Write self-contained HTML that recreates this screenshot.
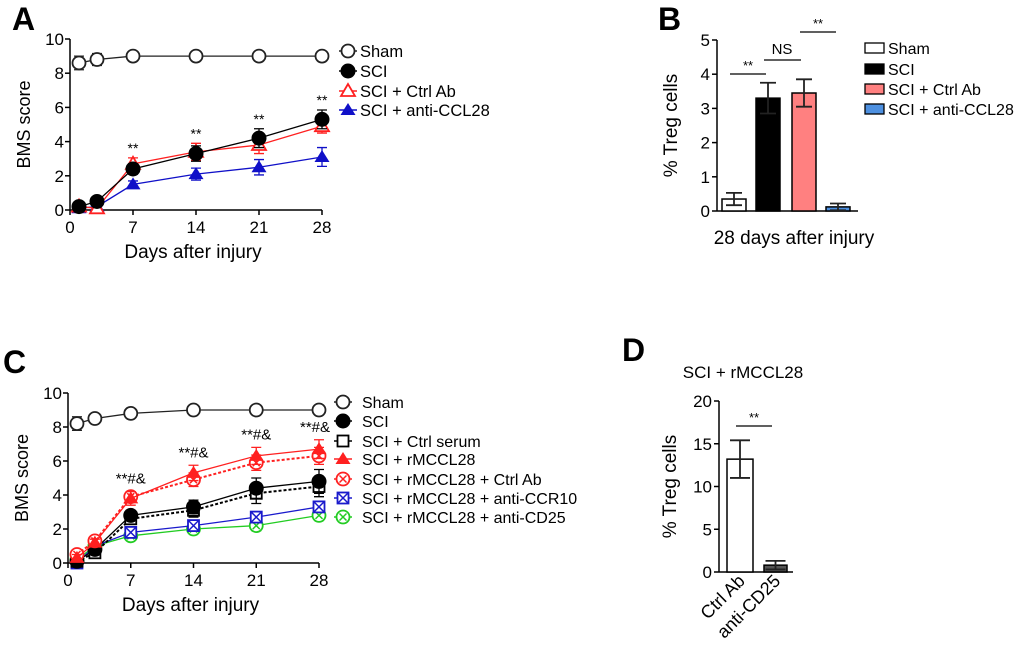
<!DOCTYPE html>
<html><head><meta charset="utf-8">
<style>
html,body{margin:0;padding:0;background:#fff;}
svg{display:block;font-family:"Liberation Sans",Arial,sans-serif;}
</style></head>
<body>
<svg id="fig" width="1020" height="650" viewBox="0 0 1020 650" xmlns="http://www.w3.org/2000/svg"></svg>
<script>
// ---------- Data ----------
const days = [1, 3, 7, 14, 21, 28];
const xTicks = [0, 7, 14, 21, 28];
const yTicksLine = [0, 2, 4, 6, 8, 10];
// Panel A
const aSham = [8.6, 8.8, 9.0, 9.0, 9.0, 9.0];
const aShamErr = [0.4, 0.35, 0.1, 0.1, 0.1, 0.1];
const aSCI = [0.2, 0.5, 2.4, 3.3, 4.2, 5.3];
const aSCIErr = [0.2, 0.2, 0.3, 0.45, 0.55, 0.55];
const aCtrl = [0.2, 0.1, 2.7, 3.4, 3.8, 4.9];
const aCtrlErr = [0.2, 0.1, 0.35, 0.5, 0.5, 0.4];
const aAnti = [0.1, 0.2, 1.5, 2.1, 2.5, 3.1];
const aAntiErr = [0.1, 0.1, 0.2, 0.35, 0.45, 0.55];
const aStars = ["", "", "**", "**", "**", "**"];
// Panel C
const cSham = [8.2, 8.5, 8.8, 9.0, 9.0, 9.0];
const cShamErr = [0.4, 0.2, 0.15, 0.15, 0.1, 0.1];
const cSCI = [0.1, 0.8, 2.8, 3.3, 4.4, 4.8];
const cSCIErr = [0.1, 0.2, 0.3, 0.4, 0.6, 0.7];
const cSerum = [0.1, 0.6, 2.6, 3.1, 4.1, 4.5];
const cSerumErr = [0.1, 0.2, 0.3, 0.4, 0.6, 0.6];
const cR = [0.3, 1.2, 3.8, 5.3, 6.3, 6.7];
const cRErr = [0.2, 0.2, 0.4, 0.45, 0.5, 0.55];
const cRCtrl = [0.5, 1.3, 3.9, 4.9, 5.9, 6.3];
const cRCtrlErr = [0.2, 0.2, 0.3, 0.4, 0.45, 0.5];
const cCCR10 = [0.0, 1.0, 1.8, 2.2, 2.7, 3.3];
const cCCR10Err = [0.1, 0.2, 0.2, 0.25, 0.3, 0.3];
const cCD25 = [0.2, 1.0, 1.6, 2.0, 2.2, 2.8];
const cCD25Err = [0.1, 0.2, 0.2, 0.2, 0.3, 0.3];
const cStars = ["", "", "**#&", "**#&", "**#&", "**#&"];
// Panel B
const bCats = ["Sham", "SCI", "SCI + Ctrl Ab", "SCI + anti-CCL28"];
const bVals = [0.35, 3.3, 3.45, 0.12];
const bErr = [0.18, 0.45, 0.4, 0.1];
const bTicks = [0, 1, 2, 3, 4, 5];
// Panel D
const dCats = ["Ctrl Ab", "anti-CD25"];
const dVals = [13.2, 0.8];
const dErr = [2.2, 0.5];
const dTicks = [0, 5, 10, 15, 20];

// ---------- helpers ----------
const NS = "http://www.w3.org/2000/svg";
const svg = document.getElementById('fig');
function el(tag, attrs, parent, text) {
  const e = document.createElementNS(NS, tag);
  for (const k in attrs) e.setAttribute(k, attrs[k]);
  if (text !== undefined) e.textContent = text;
  (parent || svg).appendChild(e);
  return e;
}
function grp(name) {
  const g = el('g', {});
  
  
  return g;
}
function marker(g, type, cx, cy, color) {
  const r = 6.5;
  if (type === 'circleOpen') el('circle', {cx, cy, r, fill: '#fff', stroke: color, 'stroke-width': 1.8}, g);
  else if (type === 'circleFill') el('circle', {cx, cy, r: 7, fill: color, stroke: color}, g);
  else if (type === 'triOpen') el('polygon', {points: `${cx},${cy-7} ${cx-7},${cy+5} ${cx+7},${cy+5}`, fill: '#fff', stroke: color, 'stroke-width': 1.8}, g);
  else if (type === 'triFill') el('polygon', {points: `${cx},${cy-7} ${cx-7.5},${cy+5} ${cx+7.5},${cy+5}`, fill: color}, g);
  else if (type === 'squareOpen') el('rect', {x: cx-5.5, y: cy-5.5, width: 11, height: 11, fill: '#fff', stroke: color, 'stroke-width': 1.8}, g);
  else if (type === 'squareX') {
    el('rect', {x: cx-5.5, y: cy-5.5, width: 11, height: 11, fill: '#fff', stroke: color, 'stroke-width': 1.8}, g);
    el('path', {d: `M${cx-5},${cy-5}L${cx+5},${cy+5}M${cx+5},${cy-5}L${cx-5},${cy+5}`, stroke: color, 'stroke-width': 1.5}, g);
  } else if (type === 'circleX') {
    el('circle', {cx, cy, r, fill: '#fff', stroke: color, 'stroke-width': 1.8}, g);
    el('path', {d: `M${cx-3.5},${cy-3.5}L${cx+3.5},${cy+3.5}M${cx+3.5},${cy-3.5}L${cx-3.5},${cy+3.5}`, stroke: color, 'stroke-width': 1.5}, g);
  }
}
function lineAxes(panel, x0, x1, y0, y1) {
  const sx = d => x0 + (d / 28) * (x1 - x0);
  const sy = v => y0 - (v / 10) * (y0 - y1);
  const ax = grp(panel + '-axes');
  el('line', {x1: x0, y1: y1, x2: x0, y2: y0, stroke: '#000', 'stroke-width': 1.5}, ax);
  el('line', {x1: x0, y1: y0, x2: x1, y2: y0, stroke: '#000', 'stroke-width': 1.5}, ax);
  yTicksLine.forEach(v => {
    el('line', {x1: x0 - 5, y1: sy(v), x2: x0, y2: sy(v), stroke: '#000', 'stroke-width': 1.5}, ax);
    const t = el('text', {x: x0 - 6, y: sy(v) + 6, 'text-anchor': 'end', 'font-size': 17}, ax, v);
    
    
  });
  xTicks.forEach(d => {
    el('line', {x1: sx(d), y1: y0, x2: sx(d), y2: y0 + 5, stroke: '#000', 'stroke-width': 1.5}, ax);
    const t = el('text', {x: sx(d), y: y0 + 23, 'text-anchor': 'middle', 'font-size': 17}, ax, d);
    
    
  });
  const yt = el('text', {x: 0, y: 0, transform: `translate(${x0 - 40},${(y0 + y1) / 2}) rotate(-90)`, 'text-anchor': 'middle', 'font-size': 18}, ax, 'BMS score');
  
  
  const xt = el('text', {x: (x0 + x1) / 2 - 3, y: y0 + 48, 'text-anchor': 'middle', 'font-size': 19}, ax, 'Days after injury');
  
  
  return {sx, sy};
}
function series(panel, name, vals, errs, color, mk, dash, s) {
  const g = grp(panel + '-series-' + name);
  const pts = days.map((d, i) => `${s.sx(d)},${s.sy(vals[i])}`).join(' ');
  const attrs = {points: pts, fill: 'none', stroke: color, 'stroke-width': 1.3};
  if (dash) { attrs['stroke-dasharray'] = '3,2'; attrs['stroke-width'] = 2; }
  el('polyline', attrs, g);
  days.forEach((d, i) => {
    const x = s.sx(d), yt = s.sy(vals[i] + errs[i]), yb = s.sy(Math.max(0, vals[i] - errs[i]));
    el('path', {d: `M${x},${yt}L${x},${yb}M${x-5},${yt}L${x+5},${yt}M${x-5},${yb}L${x+5},${yb}`, stroke: color, 'stroke-width': 1.3, fill: 'none'}, g);
  });
  days.forEach((d, i) => {
    const mg = el('g', {}, g);
    
    
    marker(mg, mk, s.sx(d), s.sy(vals[i]), color);
  });
}
function legendRow(panel, x, y, label, color, mk, dash, size, off) {
  const g = grp(panel + '-legend-entry');
  const la = {x1: x - 9, y1: y, x2: x + 9, y2: y, stroke: color, 'stroke-width': 1.5};
  if (dash) la['stroke-dasharray'] = '3,2';
  el('line', la, g);
  marker(g, mk, x, y, color);
  el('text', {x: x + off, y: y + 6, 'font-size': size}, g, label);
}
function label(ch, x, y) {
  const t = el('text', {x, y, 'font-size': 32, 'font-weight': 'bold'}, svg, ch);
  
  
}

// ---------- Panel A ----------
label('A', 12, 30);
const sA = lineAxes('panel-a', 70, 322, 210, 39);
series('panel-a', 'sham', aSham, aShamErr, '#222', 'circleOpen', false, sA);
series('panel-a', 'anti-ccl28', aAnti, aAntiErr, '#1010c8', 'triFill', false, sA);
series('panel-a', 'ctrl-ab', aCtrl, aCtrlErr, '#ff2020', 'triOpen', false, sA);
series('panel-a', 'sci', aSCI, aSCIErr, '#000', 'circleFill', false, sA);
(function(){ const g = grp('panel-a-significance');
  days.forEach((d, i) => { if (aStars[i]) el('text', {x: sA.sx(d), y: sA.sy(Math.max(aSCI[i] + aSCIErr[i], aCtrl[i] + aCtrlErr[i])) - 5, 'text-anchor': 'middle', 'font-size': 14}, g, aStars[i]); });
})();
legendRow('panel-a', 348, 51, 'Sham', '#222', 'circleOpen', false, 16.5, 12);
legendRow('panel-a', 348, 71, 'SCI', '#000', 'circleFill', false, 16.5, 12);
legendRow('panel-a', 348, 91, 'SCI + Ctrl Ab', '#ff2020', 'triOpen', false, 16.5, 12);
legendRow('panel-a', 348, 110, 'SCI + anti-CCL28', '#1010c8', 'triFill', false, 16.5, 12);

// ---------- Panel C ----------
label('C', 3, 373);
const sC = lineAxes('panel-c', 68, 319, 563, 393);
series('panel-c', 'sham', cSham, cShamErr, '#222', 'circleOpen', false, sC);
series('panel-c', 'anti-cd25', cCD25, cCD25Err, '#22cc22', 'circleX', false, sC);
series('panel-c', 'anti-ccr10', cCCR10, cCCR10Err, '#1a1acc', 'squareX', false, sC);
series('panel-c', 'ctrl-serum', cSerum, cSerumErr, '#000', 'squareOpen', true, sC);
series('panel-c', 'sci', cSCI, cSCIErr, '#000', 'circleFill', false, sC);
series('panel-c', 'rmccl28-ctrl-ab', cRCtrl, cRCtrlErr, '#ff2020', 'circleX', true, sC);
series('panel-c', 'rmccl28', cR, cRErr, '#ff2020', 'triFill', false, sC);
(function(){ const g = grp('panel-c-significance');
  days.forEach((d, i) => { if (cStars[i]) el('text', {x: sC.sx(d) - (i === 5 ? 4 : 0), y: sC.sy(cR[i] + cRErr[i]) - 8, 'text-anchor': 'middle', 'font-size': 15}, g, cStars[i]); });
})();
const cLeg = [['Sham','#222','circleOpen',false],['SCI','#000','circleFill',false],['SCI + Ctrl serum','#000','squareOpen',true],['SCI + rMCCL28','#ff2020','triFill',false],['SCI + rMCCL28 + Ctrl Ab','#ff2020','circleX',true],['SCI + rMCCL28 + anti-CCR10','#1a1acc','squareX',false],['SCI + rMCCL28 + anti-CD25','#22cc22','circleX',false]];
const cLegY = [402, 421, 441, 459, 479, 498, 517];
cLeg.forEach((r, i) => legendRow('panel-c', 343, cLegY[i], r[0], r[1], r[2], r[3], 16, 19));

// ---------- Panel B ----------
label('B', 658, 30);
(function(){
  const x0 = 717, x1 = 858, y0 = 211, y1 = 40;
  const sy = v => y0 - (v / 5) * (y0 - y1);
  const bx = [722, 756, 792, 826], bw = 24;
  const fills = ['#fff', '#000', '#ff8080', '#4d90e0'];
  const ax = grp('panel-b-axes');
  el('line', {x1: x0, y1: y1, x2: x0, y2: y0, stroke: '#000', 'stroke-width': 1.5}, ax);
  el('line', {x1: x0, y1: y0, x2: x1, y2: y0, stroke: '#000', 'stroke-width': 1.5}, ax);
  bTicks.forEach(v => {
    el('line', {x1: x0 - 5, y1: sy(v), x2: x0, y2: sy(v), stroke: '#000', 'stroke-width': 1.5}, ax);
    el('text', {x: x0 - 7, y: sy(v) + 6, 'text-anchor': 'end', 'font-size': 17}, ax, v);
  });
  el('text', {transform: `translate(${x0 - 40},${(y0 + y1) / 2}) rotate(-90)`, 'text-anchor': 'middle', 'font-size': 19}, ax, '% Treg cells');
  el('text', {x: 794, y: 244, 'text-anchor': 'middle', 'font-size': 19}, ax, '28 days after injury');
  bVals.forEach((v, i) => {
    const r = el('rect', {x: bx[i], y: sy(v), width: bw, height: y0 - sy(v), fill: fills[i], stroke: '#000', 'stroke-width': 1.5});
    
    
    const cx = bx[i] + bw / 2, t = sy(v + bErr[i]), b = sy(Math.max(0, v - bErr[i]));
    el('path', {d: `M${cx},${t}L${cx},${b}M${cx-8},${t}L${cx+8},${t}M${cx-8},${b}L${cx+8},${b}`, stroke: '#222', 'stroke-width': 1.8, fill: 'none'});
  });
  const sg = grp('panel-b-significance');
  el('line', {x1: 730, y1: 74, x2: 766, y2: 74, stroke: '#000', 'stroke-width': 1.3}, sg);
  el('text', {x: 748, y: 70, 'text-anchor': 'middle', 'font-size': 13}, sg, '**');
  el('line', {x1: 764, y1: 60, x2: 801, y2: 60, stroke: '#000', 'stroke-width': 1.3}, sg);
  el('text', {x: 782, y: 54, 'text-anchor': 'middle', 'font-size': 15}, sg, 'NS');
  el('line', {x1: 800, y1: 32, x2: 836, y2: 32, stroke: '#000', 'stroke-width': 1.3}, sg);
  el('text', {x: 818, y: 28, 'text-anchor': 'middle', 'font-size': 13}, sg, '**');
  const ly = [48, 69, 89, 109];
  bCats.forEach((c, i) => {
    const g = grp('panel-b-legend-entry');
    el('rect', {x: 865, y: ly[i] - 5, width: 19, height: 10, fill: fills[i], stroke: '#000', 'stroke-width': 1.3}, g);
    el('text', {x: 888, y: ly[i] + 6, 'font-size': 16}, g, c);
  });
})();

// ---------- Panel D ----------
label('D', 622, 361);
(function(){
  const x0 = 719, x1 = 793, y0 = 572, y1 = 401;
  const sy = v => y0 - (v / 20) * (y0 - y1);
  const bx = [727, 764], bw = [26, 23];
  const fills = ['#fff', '#555'];
  const ax = grp('panel-d-axes');
  el('text', {x: 743, y: 378, 'text-anchor': 'middle', 'font-size': 17}, ax, 'SCI + rMCCL28');
  el('line', {x1: x0, y1: y1, x2: x0, y2: y0, stroke: '#000', 'stroke-width': 1.5}, ax);
  el('line', {x1: x0, y1: y0, x2: x1, y2: y0, stroke: '#000', 'stroke-width': 1.5}, ax);
  dTicks.forEach(v => {
    el('line', {x1: x0 - 5, y1: sy(v), x2: x0, y2: sy(v), stroke: '#000', 'stroke-width': 1.5}, ax);
    el('text', {x: x0 - 7, y: sy(v) + 6, 'text-anchor': 'end', 'font-size': 17}, ax, v);
  });
  el('text', {transform: `translate(${x0 - 43},${(y0 + y1) / 2}) rotate(-90)`, 'text-anchor': 'middle', 'font-size': 19}, ax, '% Treg cells');
  dVals.forEach((v, i) => {
    const r = el('rect', {x: bx[i], y: sy(v), width: bw[i], height: y0 - sy(v), fill: fills[i], stroke: '#000', 'stroke-width': 1.5});
    
    
    const cx = bx[i] + bw[i] / 2, t = sy(v + dErr[i]), b = sy(Math.max(0, v - dErr[i]));
    el('path', {d: `M${cx},${t}L${cx},${b}M${cx-10},${t}L${cx+10},${t}M${cx-10},${b}L${cx+10},${b}`, stroke: '#222', 'stroke-width': 1.8, fill: 'none'});
    const lx = bx[i] + bw[i] / 2 + 6;
    el('text', {transform: `translate(${lx},${y0 + 10}) rotate(-45)`, 'text-anchor': 'end', 'font-size': 18}, ax, dCats[i]);
  });
  const sg = grp('panel-d-significance');
  el('line', {x1: 736, y1: 426, x2: 772, y2: 426, stroke: '#000', 'stroke-width': 1.3}, sg);
  el('text', {x: 754, y: 422, 'text-anchor': 'middle', 'font-size': 13}, sg, '**');
})();
</script>
</body></html>
